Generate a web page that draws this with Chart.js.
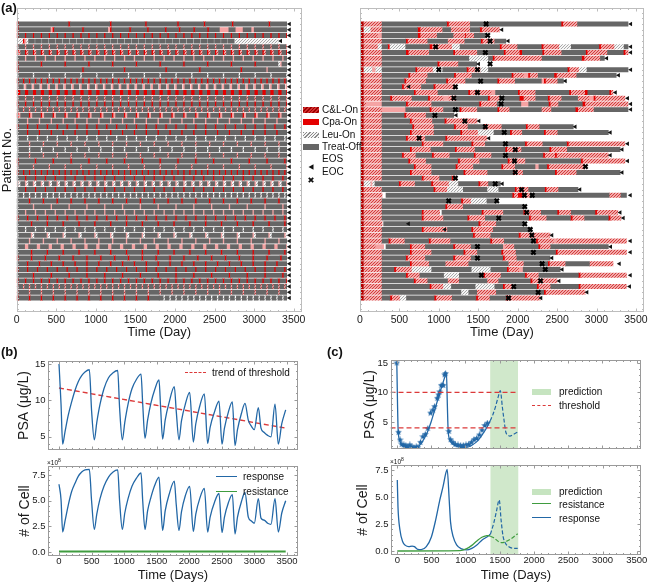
<!DOCTYPE html>
<html><head><meta charset="utf-8">
<script src="https://cdn.jsdelivr.net/npm/chart.js@4.4.1/dist/chart.umd.min.js"></script>
<style>
body{margin:0;background:#fff;font-family:'Liberation Sans',Arial,sans-serif;}
#wrap{position:relative;width:650px;height:583px;overflow:hidden;background:#fff;}
canvas{position:absolute;}
.t{position:absolute;white-space:nowrap;color:#111;}
.b{position:absolute;}
</style></head><body><div id="wrap">
<canvas id="a1" width="310" height="340" style="left:0;top:0;width:310px;height:340px"></canvas>
<canvas id="a2" width="310" height="340" style="left:340px;top:0;width:310px;height:340px"></canvas>
<canvas id="b1" width="310" height="110" style="left:0;top:345px;width:310px;height:110px"></canvas>
<canvas id="b2" width="310" height="128" style="left:0;top:455px;width:310px;height:128px"></canvas>
<canvas id="c1" width="320" height="110" style="left:330px;top:345px;width:320px;height:110px"></canvas>
<canvas id="c2" width="320" height="128" style="left:330px;top:455px;width:320px;height:128px"></canvas>
</div>
<script>
// ---------------- DATA ----------------
// Panel (a): treatment timelines, run-length tokens: code + days
// C = C&L-On, R = Cpa-On, D = Cpa-On (dark), P = light red, L = Leu-On, T = Treat-Off, W = gap
const leftRows = [
"R25 T625 R25 T500 R25 T420 R25 T380 R25 T310 R25 T330 R25 T440 R25 T",
"R25 T400 P25 R25 T350 R25 T300 P25 R25 T220 R25 T200 R25 T200 R25 T150 R25 T160 R25 T150 R25 T130 P120 T80 P100 T100 P40 T",
"(R25 T75)*40",
"L75 R25 P25 L25 (T75 W12)*30 L",
"(C25 T75)*40",
"(R25 C25 T50)*40",
"(T100 P25)*40",
"(R25 T275)*11 L25 P25 T",
"R25 T800 R25 T500 R25 T500 R25 T400 R25 T500 R25 T300 P25 T",
"(L25 T175)*20",
"(R25 T50)*50",
"(P25 T60 W15)*40",
"(R50 T50)*40",
"(C25 T75)*40",
"(R25 T75)*40",
"(C25 T50)*50",
"(R25 P25 T100)*30",
"(T125 P25)*30",
"(R25 T100)*30",
"(T125 R25)*30",
"(L25 T100)*30",
"(T150 C25)*25",
"(L25 T125)*25",
"(T150 C25)*25",
"(R25 T200)*20",
"(C25 T175)*20",
"(R25 T50)*50",
"(T100 R25)*30",
"(P25 L25 T50)*40",
"(T100 R25)*30",
"(L25 T50)*50",
"(T150 R25)*25",
"(T200 P25)*20",
"(T100 P25)*30",
"(R25 T100)*30",
"(T175 R25)*20",
"(T100 L25)*30",
"(L25 T150 P25)*20",
"(T150 P25)*25",
"(T100 P50)*25",
"(T175 R25)*20",
"(R25 T150)*25",
"(T125 R25)*25",
"(R25 T100)*30",
"(T200 R25)*20",
"(R25 T75)*40",
"(C25 T50)*50",
"(C25 T125)*25",
"(R25 T125)*12 (T50 L25)*30"
];
const leftEnd = [3410,3410,3410,3300,3410,3410,3410,3410,3410,3410,3410,3410,3410,3410,3410,3410,3410,3410,3410,3410,3410,3410,3410,3410,3410,3410,3410,3410,3410,3410,3410,3410,3410,3410,3410,3410,3410,3410,3410,3410,3410,3410,3410,3410,3410,3410,3410,3410,3410];
const leftEOS = [3445,3445,3445,3335,3445,3445,3445,3445,3445,3445,3445,3445,3445,3445,3445,3445,3445,3445,3445,3445,3445,3445,3445,3445,3445,3445,3445,3445,3445,3445,3445,3445,3445,3445,3445,3445,3445,3445,3445,3445,3445,3445,3445,3445,3445,3445,3445,3445,3445];

const rightRows = [
"D50 C230 T820 R30 C270 T1150 R30 C180 T",
"D50 L80 C150 T450 R40 C280 T100 C250 T120 R30 C",
"D50 C180 P50 T450 R40 C210 T200 C150 R20 C100 T",
"D50 C230 T300 R30 C250 T250 C220 T200 R30 C150 T",
"D50 C180 L50 T70 R30 L200 T300 R40 C250 L100 T500 R30 C200 T300 R30 C200 L150 T350 R30 C170 L120 T",
"D50 C230 T300 R40 C260 T300 R30 C280 T330 R30 C170 R40 T250 R30 C220 T300 R30 C250 T200 R30 C",
"D50 C230 T1100 L250 T50 R30 C600 T500 R40 C200 T",
"D50 C230 T700 R30 C240 T",
"D50 L100 P50 L80 T420 R30 C200 L120 T300 R30 C150 L100 T1000 R30 C120 L100 T",
"D50 C230 T330 R30 C220 T330 R30 C200 T500 R30 C130 P50 R30 C100 T200 R40 C250 T",
"D50 C230 T280 R30 C250 T250 R30 C220 T400 R30 C200 T330 P30 R30 C150 T",
"D50 C230 T250 R30 C220 T150 R30 C",
"D50 C230 T400 R30 C280 T380 R30 C270 P50 T280 R30 C200 T420 R30 C170 R40 T270 R30 C",
"D50 C230 T100 R30 C250 T200 R30 C170 P60 C100 T400 R30 C120 T250 R60 C150 T150 R30 C150 T200 C150 P50 R30 C",
"D50 C30 P200 T300 R30 C300 T600 R30 C200 T300 P100 T250 R30 C100 T300 R40 C",
"D50 C230 P300 T300 R30 C150 T200 R30 C200 T250 R30 C130 T400 C130 T300 R40 C200 T",
"D50 C230 T280 R30 C250 T",
"D50 C230 T350 R30 C260 T150 R30 C",
"D50 C230 T380 R30 C250 T250 R30 C150 T200 R30 C200 T300 R30 C150 T",
"D50 C230 T350 R30 C280 T330 R30 C200 L200 T200 R30 C130 T270 R30 C150 T",
"D50 C230 T300 R30 C220 T250 R30 C",
"D50 C230 T500 R30 C250 T350 R30 C150 T500 R30 C200 T300 R30 C",
"D50 C230 T350 R30 C240 T300 R30 C230 T380 R30 C180 T350 R30 C200 T",
"D50 C230 T250 R30 C150 T200 R30 C200 T300 R30 C200 T650 R30 C120 R30 C",
"D50 C230 T330 R30 C200 T400 R30 C250 T350 R30 C200 T700 R30 C",
"D50 C230 T400 R30 C200 T300 R30 C200 T350 R30 C150 T250 P50 T100 R30 C",
"D50 C230 T350 R30 C250 T400 R30 C280 T320 R30 C100 T400 R30 C250 T",
"D50 C230 T500 R30 C200 T150 R30 C",
"D50 L80 P30 L30 T300 R30 C180 T200 R30 C200 L120 T250 R30 C100 T",
"D50 C230 T650 R30 C150 L200 T300 L150 T200 R30 C150 T200 R30 C150 T",
"D50 C230 W50 T1600 R30 C40 R60 C100 T1000 C150 T",
"D50 C230 T1000 R30 C100 L200 T",
"D50 C230 T800 R30 C200 T",
"D50 C230 T500 R30 C200 W30 T500 R30 C250 T250 R30 C200 T200 R30 C150 T300 R30 C",
"D50 C230 T500 R30 C250 T300 R30 C200 T550 R30 C200 T300 R30 C150 T300 R30 C",
"D50 C230 W20 T1200 R30 C200 T",
"D50 C230 T500 R30 C300 T300 R30 C250 T",
"D50 C230 T1150 R30 C200 T350 R30 C",
"D50 C230 T80 R30 C180 T300 R30 C250 T500 R30 C150 T400 R30 C200 P30 C",
"D50 C150 P100 W30 T300 R30 C170 T350 R30 C200 T400 P30 C120 T300 R30 C130 T",
"D50 C230 T350 R30 C250 T400 R30 C150 T300 R30 C160 T500 R30 C",
"D50 C230 T300 R30 C220 T350 R30 C200 T400 R30 C150 T",
"D50 C230 T350 R30 C220 T200 C300 T500 C200 T300 R30 C200 T300 C",
"D50 C230 T150 R30 C200 L250 T500 L250 T200 R30 C130 P50 T",
"D50 C230 T300 R30 C150 T300 L200 T300 R30 C200 T300 R30 C150 T500 R30 C",
"D50 C230 T400 R30 C150 T250 C150 T350 C150 T400 R30 C",
"D50 C230 T600 R30 C150 L100 T300 L250 T100 R30 C100 T300 R30 C150 T350 R30 C",
"D50 C230 T1000 L100 T100 C250 T600 R30 C",
"D50 C230 T100 R30 C100 L80 T350 R30 C200 T300 R30 C150 T200 R30 C"
];
const rightEnd = [3400,1770,1600,1850,3400,3400,3100,1480,3400,3250,2580,1210,3210,3360,3400,3400,1190,1485,2705,3150,1610,3360,3300,3150,3360,2850,3300,1210,1780,2765,3380,1735,2090,3270,3310,2090,2160,2410,3380,3150,3380,2410,3210,2540,3380,2500,3380,2855,2285];
const rightEOS = [3435,1800,null,1880,3435,3435,3130,1505,3435,3280,2605,620,3240,3395,3435,3435,1220,1510,2730,3175,1635,3395,3325,3175,3395,null,3325,null,1805,2790,3430,null,null,3300,3340,615,1075,2435,3430,3180,3430,2435,3290,2565,3430,2525,3420,2880,2295];
const rightEOC = [[1600],[],[1620],[1650],[960],[1590],[],[1650],[1000,1490],[],[1530],[1210],[1490],[1190,1800],[1790],[1210],[950],[1330],[1590],[1830],[750],[1845],[1970],[1845],[1960],[2860],[1970],[1210],[1715],[2050],[2085,2185],[1125,1735],[2090],[2115],[1760],[2090],[2160],[2180],[2200],[1490],[2200],[1490],[2310],[2350],[1540],[2290],[1950],[2260],[1885]];

// Panel (b)
const bDays  = [0,31,56,92,143,194,246,297,348,399,466,500,542,580,630,690,760,830,901,930,972,1010,1060,1120,1190,1259,1285,1320,1360,1410,1470,1535,1560,1591,1630,1690,1770,1800,1842,1880,1940,2006,2062,2100,2160,2231,2282,2320,2390,2456,2502,2540,2600,2661,2702,2740,2800,2855,2906,2957,2998,3060,3101,3150,3203,3254,3316,3367,3420,3480];
const bPSA   = [15.0,9.5,4.0,5.7,8.0,9.8,11.4,12.6,13.4,13.9,14.2,8.6,4.6,7.0,9.5,11.6,13.1,13.8,14.1,9.0,4.6,7.0,9.5,11.6,12.9,13.6,9.5,4.8,7.3,9.6,11.5,12.8,9.0,4.7,7.3,9.7,11.9,8.5,4.6,7.2,9.5,11.1,4.3,6.8,9.2,10.9,4.1,6.3,8.5,9.9,4.0,6.2,8.4,9.8,3.8,6.0,8.2,9.6,7.3,6.4,6.0,9.0,6.2,5.6,5.2,5.0,9.5,4.0,6.8,8.7];
const bCells = [6.6,5.1,1.95,3.0,4.6,5.9,6.7,7.4,7.8,8.0,8.05,5.0,2.2,3.7,5.2,6.4,7.3,7.8,8.0,5.0,2.2,3.8,5.2,6.4,7.2,7.7,5.0,2.2,4.0,5.3,6.5,7.3,4.9,2.1,4.0,5.6,6.9,4.6,2.1,3.9,5.5,6.4,2.0,3.7,5.2,6.2,1.95,3.4,4.9,5.7,1.9,3.4,4.8,5.6,1.75,3.4,4.9,5.8,3.4,3.0,2.8,5.2,3.3,3.1,2.8,2.7,5.2,1.95,3.8,5.0];
const trendDays = [0,3480];
const trendPSA  = [11.7,6.2];
const bResDays  = [0,3480];
const bRes      = [0.05,0.05];

// Panel (c)
const cPsaDays = [0,20,40,60,100,150,200,250,290,350,400,450,500,550,600,650,700,724,737,749,773,800,850,900,950,1000,1050,1100,1150,1200,1250,1300,1362];
const cPsa     = [15,3.5,2.0,1.3,0.8,0.6,0.5,0.45,0.6,1.3,2.2,3.4,5.0,6.9,8.9,10.8,12.6,13.3,8.0,3.5,2.0,1.4,1.0,0.8,0.7,0.7,0.8,1.1,1.5,2.1,2.9,3.8,5.2];
const cPsaPredDays = [1362,1400,1440,1480,1510,1540,1562,1590,1620,1650,1700,1765];
const cPsaPred     = [5.2,6.2,7.6,9.3,10.3,7.5,5.5,3.3,2.8,2.6,2.9,3.3];
const starDays = [0,25,49,73,103,132,161,190,220,249,283,307,346,380,415,453,492,527,551,590,609,624,648,678,697,712,760,785,819,853,892,931,970,1009,1048,1087,1126,1165,1204,1243,1282,1321];
const starPSA  = [15,3.25,1.95,1.2,1.1,1.0,0.8,1.1,0.8,0.65,0.8,0.7,1.55,2.5,2.9,3.9,6.5,7.0,7.6,9.0,9.6,10.1,11.2,11.2,13.0,13.2,3.4,2.0,1.55,1.2,1.1,1.0,1.0,1.1,1.2,1.55,2.0,2.2,2.8,3.6,4.4,4.8];
const thresholds = [10,4];
const thrRange = [-92,1770];
const predBand = [1362,1768];
const respDays = [0,10,39,79,118,167,217,251,300,350,424,498,562,621,670,709,729,759,778,818,867,941,1015,1089,1163,1236,1310,1360];
const resp     = [6.57,4.1,1.94,0.86,0.52,0.4,0.46,0.4,0.15,0.12,0.4,1.3,2.9,4.7,6.0,7.2,7.56,4.7,2.7,1.3,0.56,0.19,0.1,0.25,0.56,1.0,1.3,1.54];
const respPredDays = [1360,1409,1448,1490,1517,1547,1581,1630,1704,1760];
const respPred     = [1.54,2.56,3.64,4.72,2.87,1.33,0.71,0.4,0.25,0.25];
const resDays = [0,916,1015,1089,1163,1236,1310,1335,1360];
const res     = [0.0,0.03,0.22,0.52,0.93,1.27,1.42,1.43,1.36];
const resPredDays = [1360,1409,1483,1532,1581,1655,1760];
const resPred     = [1.36,1.23,0.86,0.77,0.86,1.1,1.6];

// tick labels
const dayTicks  = [0,500,1000,1500,2000,2500,3000,3500];
const psaTicks  = [5,10,15];
const cellTicks = [0,2.5,5,7.5];

// ---------------- STYLE / HELPERS ----------------
Chart.defaults.font.family = "'Liberation Sans', Arial, sans-serif";
Chart.defaults.color = '#1a1a1a';
const BLUE = '#2267a6', RED = '#dc3a3a', GREEN = '#3f9c3f', BANDC = 'rgba(150,205,140,0.45)';

function hatch(bg, fg, size, lw) {
  const c = document.createElement('canvas'); c.width = c.height = size;
  const g = c.getContext('2d');
  g.fillStyle = bg; g.fillRect(0, 0, size, size);
  g.strokeStyle = fg; g.lineWidth = lw; g.beginPath();
  g.moveTo(-1, size + 1); g.lineTo(size + 1, -1);
  g.moveTo(-1, 1); g.lineTo(1, -1);
  g.moveTo(size - 1, size + 1); g.lineTo(size + 1, size - 1);
  g.stroke();
  return g.createPattern(c, 'repeat');
}
const patC = hatch('#f2a9a9', '#cf3030', 3, 0.9);
const patL = hatch('#f6f6f6', '#a0a0a0', 3, 0.9);
const codeStyle = {C: patC, R: '#e40000', D: '#b40000', P: '#f5a3a3', L: patL, T: '#666666'};

function expandRow(str, end) {
  const full = str.replace(/\(([^()]*)\)\*(\d+)/g, (m, g, n) => Array(+n).fill(g).join(' '));
  const toks = full.trim().split(/\s+/);
  const segs = []; let t = 0;
  for (const tok of toks) {
    const code = tok[0];
    const len = tok.length > 1 ? +tok.slice(1) : Infinity;
    const s = t, e = Math.min(t + len, end);
    if (e > s && code !== 'W') segs.push({code, s, e});
    t += len;
    if (t >= end) break;
  }
  return segs;
}

function swimDatasets(rows, ends, eos, eoc) {
  const byCode = {};
  rows.forEach((str, i) => {
    expandRow(str, ends[i]).forEach(sg => {
      (byCode[sg.code] = byCode[sg.code] || []).push({x: [sg.s, sg.e], y: i + 1});
    });
  });
  const ds = ['T', 'L', 'P', 'C', 'R', 'D'].filter(c => byCode[c]).map(c => ({
    type: 'bar', data: byCode[c], backgroundColor: codeStyle[c], borderWidth: 0,
    barThickness: 4.3, grouped: false, indexAxis: 'y', order: 5
  }));
  const eosPts = [];
  eos.forEach((v, i) => { if (v != null) eosPts.push({x: v, y: i + 1}); });
  ds.push({type: 'scatter', data: eosPts, pointStyle: 'triangle', rotation: -90, pointRadius: 2.6,
           backgroundColor: '#111', borderColor: '#111', borderWidth: 0, order: 1});
  if (eoc) {
    const eocPts = [];
    eoc.forEach((arr, i) => arr.forEach(v => eocPts.push({x: v, y: i + 1})));
    ds.push({type: 'scatter', data: eocPts, pointStyle: 'crossRot', pointRadius: 3,
             borderColor: '#000', borderWidth: 2.2, order: 0});
  }
  return ds;
}

const pts = (xs, ys) => xs.map((x, i) => ({x, y: ys[i]}));

const framePlugin = {
  id: 'frame',
  afterDatasetsDraw(chart, args, o) {
    if (!o || !o.on) return;
    const {ctx, chartArea: a} = chart;
    const xs = chart.scales.x, ys = chart.scales.y;
    const L = Math.round(a.left) + 0.5, R = Math.round(a.right) - 0.5;
    const T = Math.round(a.top) + 0.5, B = Math.round(a.bottom) - 0.5;
    ctx.save();
    ctx.strokeStyle = o.color; ctx.lineWidth = 1;
    ctx.beginPath();
    const vt = (v, len) => { const p = Math.round(xs.getPixelForValue(v)) + 0.5; if (p < L || p > R) return;
      ctx.moveTo(p, B); ctx.lineTo(p, B - len); ctx.moveTo(p, T); ctx.lineTo(p, T + len); };
    const ht = (v, len) => { const p = Math.round(ys.getPixelForValue(v)) + 0.5; if (p < T || p > B) return;
      ctx.moveTo(L, p); ctx.lineTo(L + len, p); ctx.moveTo(R, p); ctx.lineTo(R - len, p); };
    (o.xMajor || []).forEach(v => vt(v, o.major));
    (o.yMajor || []).forEach(v => ht(v, o.major));
    if (o.xMinor) for (let v = Math.ceil(xs.min / o.xMinor) * o.xMinor; v <= xs.max; v += o.xMinor) vt(v, o.minor);
    if (o.yMinor) for (let v = Math.ceil(ys.min / o.yMinor) * o.yMinor; v <= ys.max; v += o.yMinor) ht(v, o.minor);
    ctx.stroke();
    ctx.strokeRect(L, T, R - L, B - T);
    ctx.restore();
  }
};
const bandPlugin = {
  id: 'band',
  beforeDatasetsDraw(chart, args, o) {
    if (!o || o.from == null) return;
    const {ctx, chartArea: a} = chart; const x = chart.scales.x;
    const x0 = x.getPixelForValue(o.from), x1 = x.getPixelForValue(o.to);
    ctx.save(); ctx.fillStyle = o.color; ctx.fillRect(x0, a.top, x1 - x0, a.height); ctx.restore();
  }
};

function swimOpts(p) {
  return {
    indexAxis: 'y', responsive: false, animation: false, events: [],
    layout: {padding: {left: 0, top: p.area.t, right: p.cw - p.area.r, bottom: 0}},
    plugins: {legend: {display: false}, tooltip: {enabled: false},
      frame: {on: true, color: '#bdbdbd', xMajor: dayTicks, yMajor: [], xMinor: 100, yMinor: 1, major: 3, minor: 1.5}},
    scales: {
      x: {type: 'linear', offset: false, min: 0, max: 3600, grid: {display: false, drawTicks: false, offset: false}, border: {display: false},
        afterBuildTicks: s => { s.ticks = dayTicks.map(v => ({value: v})); },
        afterFit: s => { s.height = p.ch - p.area.b; s.paddingLeft = 0; s.paddingRight = 0; },
        ticks: {padding: 2, font: {size: 10.5}, maxRotation: 0, autoSkip: false, callback: v => String(v)},
        title: {display: true, text: 'Time (Day)', font: {size: 13}, padding: 0}},
      y: {type: 'linear', offset: false, reverse: true, min: -1.8, max: 51.45, grid: {display: false, drawTicks: false, offset: false}, border: {display: false},
        ticks: {display: false},
        afterFit: s => { s.width = p.area.l; s.paddingTop = 0; s.paddingBottom = 0; },
        title: {display: !!p.yTitle, text: p.yTitle || '', font: {size: 13}, padding: {top: 0, bottom: 0}}}
    }
  };
}

function lineOpts(p) {
  return {
    responsive: false, animation: false, events: [],
    layout: {padding: {left: 0, top: p.area.t, right: p.cw - p.area.r, bottom: 0}},
    plugins: {legend: {display: false}, tooltip: {enabled: false},
      frame: {on: true, color: '#9a9a9a', xMajor: dayTicks, yMajor: p.yTicks, xMinor: 100, yMinor: p.yMinor, major: 3, minor: 1.5},
      band: p.band || {}},
    scales: {
      x: {type: 'linear', min: p.xMin, max: p.xMax, grid: {display: false, drawTicks: false}, border: {display: false},
        afterBuildTicks: s => { s.ticks = dayTicks.map(v => ({value: v})); },
        afterFit: s => { s.height = p.ch - p.area.b; s.paddingLeft = 0; s.paddingRight = 0; },
        ticks: {display: !!p.xTitle, padding: 0, font: {size: 9.5}, maxRotation: 0, autoSkip: false, callback: v => String(v)},
        title: {display: !!p.xTitle, text: p.xTitle || '', font: {size: 13}, padding: 0}},
      y: {type: 'linear', min: p.yMin, max: p.yMax, grid: {display: false, drawTicks: false}, border: {display: false},
        afterBuildTicks: s => { s.ticks = p.yTicks.map(v => ({value: v})); },
        afterFit: s => { s.width = p.area.l; s.paddingTop = 0; s.paddingBottom = 0; },
        ticks: {padding: 2.5, font: {size: 9.5}, callback: p.yFmt},
        title: {display: true, text: p.yTitle, font: {size: 14}, padding: {top: p.yPad, bottom: 0}}}
    }
  };
}

function starImg(color, size) {
  const c = document.createElement('canvas'); c.width = c.height = size;
  const g = c.getContext('2d'); g.fillStyle = color; g.beginPath();
  const cx = size / 2, cy = size / 2, Ro = size / 2, Ri = Ro * 0.45;
  for (let k = 0; k < 10; k++) {
    const ang = -Math.PI / 2 + k * Math.PI / 5, rr = k % 2 ? Ri : Ro;
    g.lineTo(cx + rr * Math.cos(ang), cy + rr * Math.sin(ang));
  }
  g.closePath(); g.fill(); return c;
}

// ---------------- CHARTS ----------------
new Chart(document.getElementById('a1'), {
  type: 'bar', data: {datasets: swimDatasets(leftRows, leftEnd, leftEOS, null)},
  options: swimOpts({cw: 310, ch: 340, area: {l: 16.7, t: 8, r: 301.7, b: 312}, yTitle: 'Patient No.'}),
  plugins: [framePlugin]
});
new Chart(document.getElementById('a2'), {
  type: 'bar', data: {datasets: swimDatasets(rightRows, rightEnd, rightEOS, rightEOC)},
  options: swimOpts({cw: 310, ch: 340, area: {l: 20, t: 8, r: 305, b: 312}}),
  plugins: [framePlugin]
});

const fmt1 = v => Number(v).toFixed(1);
const fmt0 = v => String(v);

new Chart(document.getElementById('b1'), {
  type: 'line',
  data: {datasets: [
    {data: pts(bDays, bPSA), borderColor: BLUE, borderWidth: 1.3, pointRadius: 0, cubicInterpolationMode: 'monotone'},
    {data: pts(trendDays, trendPSA), borderColor: RED, borderWidth: 1.4, borderDash: [5, 3], pointRadius: 0}
  ]},
  options: lineOpts({cw: 310, ch: 110, area: {l: 48, t: 16, r: 298, b: 105}, xMin: -169, xMax: 3669,
    yMin: 3.2, yMax: 15.4, yTicks: psaTicks, yMinor: 1, yFmt: fmt0, yTitle: 'PSA (μg/L)', yPad: 15.6}),
  plugins: [framePlugin, bandPlugin]
});
new Chart(document.getElementById('b2'), {
  type: 'line',
  data: {datasets: [
    {data: pts(bDays, bCells), borderColor: BLUE, borderWidth: 1.3, pointRadius: 0, cubicInterpolationMode: 'monotone'},
    {data: pts(bResDays, bRes), borderColor: GREEN, borderWidth: 1.8, pointRadius: 0}
  ]},
  options: lineOpts({cw: 310, ch: 128, area: {l: 48, t: 11, r: 298, b: 101}, xMin: -169, xMax: 3669,
    yMin: -0.39, yMax: 8.38, yTicks: cellTicks, yMinor: 0.5, yFmt: fmt1, yTitle: '# of Cell', yPad: 16.4, xTitle: 'Time (Days)'}),
  plugins: [framePlugin, bandPlugin]
});

const star = starImg(BLUE, 7);
new Chart(document.getElementById('c1'), {
  type: 'line',
  data: {datasets: [
    {data: pts(thrRange, [thresholds[0], thresholds[0]]), borderColor: RED, borderWidth: 1.3, borderDash: [5, 3], pointRadius: 0},
    {data: pts(thrRange, [thresholds[1], thresholds[1]]), borderColor: RED, borderWidth: 1.3, borderDash: [5, 3], pointRadius: 0},
    {data: pts(cPsaDays, cPsa), borderColor: BLUE, borderWidth: 1.3, pointRadius: 0, cubicInterpolationMode: 'monotone'},
    {data: pts(cPsaPredDays, cPsaPred), borderColor: BLUE, borderWidth: 1.2, borderDash: [4, 2], pointRadius: 0, cubicInterpolationMode: 'monotone'},
    {type: 'scatter', data: pts(starDays, starPSA), pointStyle: star, pointRadius: 3.5, borderColor: BLUE, backgroundColor: BLUE}
  ]},
  options: lineOpts({cw: 320, ch: 110, area: {l: 60.5, t: 15, r: 311, b: 104}, xMin: -92, xMax: 3562,
    yMin: 0.42, yMax: 15.5, yTicks: psaTicks, yMinor: 1, yFmt: fmt0, yTitle: 'PSA (μg/L)', yPad: 31.6,
    band: {from: predBand[0], to: predBand[1], color: BANDC}}),
  plugins: [framePlugin, bandPlugin]
});
new Chart(document.getElementById('c2'), {
  type: 'line',
  data: {datasets: [
    {data: pts(resDays, res), borderColor: GREEN, borderWidth: 1.3, pointRadius: 0, cubicInterpolationMode: 'monotone'},
    {data: pts(resPredDays, resPred), borderColor: GREEN, borderWidth: 1.2, borderDash: [4, 2], pointRadius: 0, cubicInterpolationMode: 'monotone'},
    {data: pts(respDays, resp), borderColor: BLUE, borderWidth: 1.3, pointRadius: 0, cubicInterpolationMode: 'monotone'},
    {data: pts(respPredDays, respPred), borderColor: BLUE, borderWidth: 1.2, borderDash: [4, 2], pointRadius: 0, cubicInterpolationMode: 'monotone'}
  ]},
  options: lineOpts({cw: 320, ch: 128, area: {l: 61, t: 10, r: 311, b: 100}, xMin: -92, xMax: 3562,
    yMin: -0.37, yMax: 7.96, yTicks: cellTicks, yMinor: 0.5, yFmt: fmt1, yTitle: '# of Cell', yPad: 25,
    xTitle: 'Time (Days)', band: {from: predBand[0], to: predBand[1], color: BANDC}}),
  plugins: [framePlugin, bandPlugin]
});

// ---------------- HTML TEXT / LEGENDS ----------------
const wrap = document.getElementById('wrap');
function addText(html, x, cy, size, bold) {
  const d = document.createElement('div'); d.className = 't';
  d.innerHTML = html; d.style.left = x + 'px'; d.style.top = (cy - size * 0.6) + 'px';
  d.style.fontSize = size + 'px'; d.style.lineHeight = (size * 1.2) + 'px';
  if (bold) d.style.fontWeight = 'bold';
  wrap.appendChild(d);
}
function addBox(x, y, w, h, bg) {
  const d = document.createElement('div'); d.className = 'b';
  d.style.cssText += `left:${x}px;top:${y}px;width:${w}px;height:${h}px;background:${bg};`;
  wrap.appendChild(d);
}
function addLine(x, y, w, color, style, th) {
  const d = document.createElement('div'); d.className = 'b';
  d.style.cssText += `left:${x}px;top:${y - th / 2}px;width:${w}px;height:0;border-top:${th}px ${style} ${color};`;
  wrap.appendChild(d);
}
function addSvg(x, y, svg) {
  const d = document.createElement('div'); d.className = 'b';
  d.style.left = x + 'px'; d.style.top = y + 'px'; d.innerHTML = svg; wrap.appendChild(d);
}

addText('(a)', 1, 8, 13, true);
addText('(b)', 1, 352, 13, true);
addText('(c)', 327, 352, 13, true);

// (a) legend
const legY = [110, 122.3, 134.6, 146.9, 159.2, 171.5];
addBox(303, legY[0] - 3, 16, 6, 'repeating-linear-gradient(135deg,#9c0000 0 1.2px,#d23030 1.2px 2.6px)');
addBox(303, legY[1] - 3, 16, 6, '#e40000');
addBox(303, legY[2] - 3, 16, 6, 'repeating-linear-gradient(135deg,#8a8a8a 0 1px,#f4f4f4 1px 2.4px)');
addBox(303, legY[3] - 3, 16, 6, '#666666');
addSvg(308, legY[4] - 3, '<svg width="6" height="6"><path d="M0.5 3 L5.5 0.3 L5.5 5.7 Z" fill="#111"/></svg>');
addSvg(308, legY[5] - 3, '<svg width="6" height="6"><path d="M0.8 0.8 L5.2 5.2 M5.2 0.8 L0.8 5.2" stroke="#111" stroke-width="1.8"/></svg>');
['C&amp;L-On', 'Cpa-On', 'Leu-On', 'Treat-Off', 'EOS', 'EOC'].forEach((t, i) => addText(t, 322, legY[i], 10));

// (b) legends
addLine(185, 373, 21, RED, 'dashed', 1.5);
addText('trend of threshold', 212, 373, 10);
addLine(216, 477, 21, BLUE, 'solid', 1.5);
addText('response', 243, 477, 10);
addLine(216, 492, 21, GREEN, 'solid', 1.8);
addText('resistance', 243, 492, 10);
addText('×10<sup style="font-size:5px">8</sup>', 47, 461, 6.5);

// (c) legends
addBox(532, 389, 19, 6, '#c6e4c0');
addText('prediction', 559, 392, 10);
addLine(532, 405.5, 19, RED, 'dashed', 1.5);
addText('threshold', 559, 406, 10);
addBox(532, 489, 19, 6, '#c6e4c0');
addText('prediction', 559, 492, 10);
addLine(532, 504, 19, GREEN, 'solid', 1.5);
addText('resistance', 559, 505, 10);
addLine(532, 518, 19, BLUE, 'solid', 1.5);
addText('response', 559, 519, 10);
addText('×10<sup style="font-size:5px">8</sup>', 390, 460, 6.5);
</script></body></html>
